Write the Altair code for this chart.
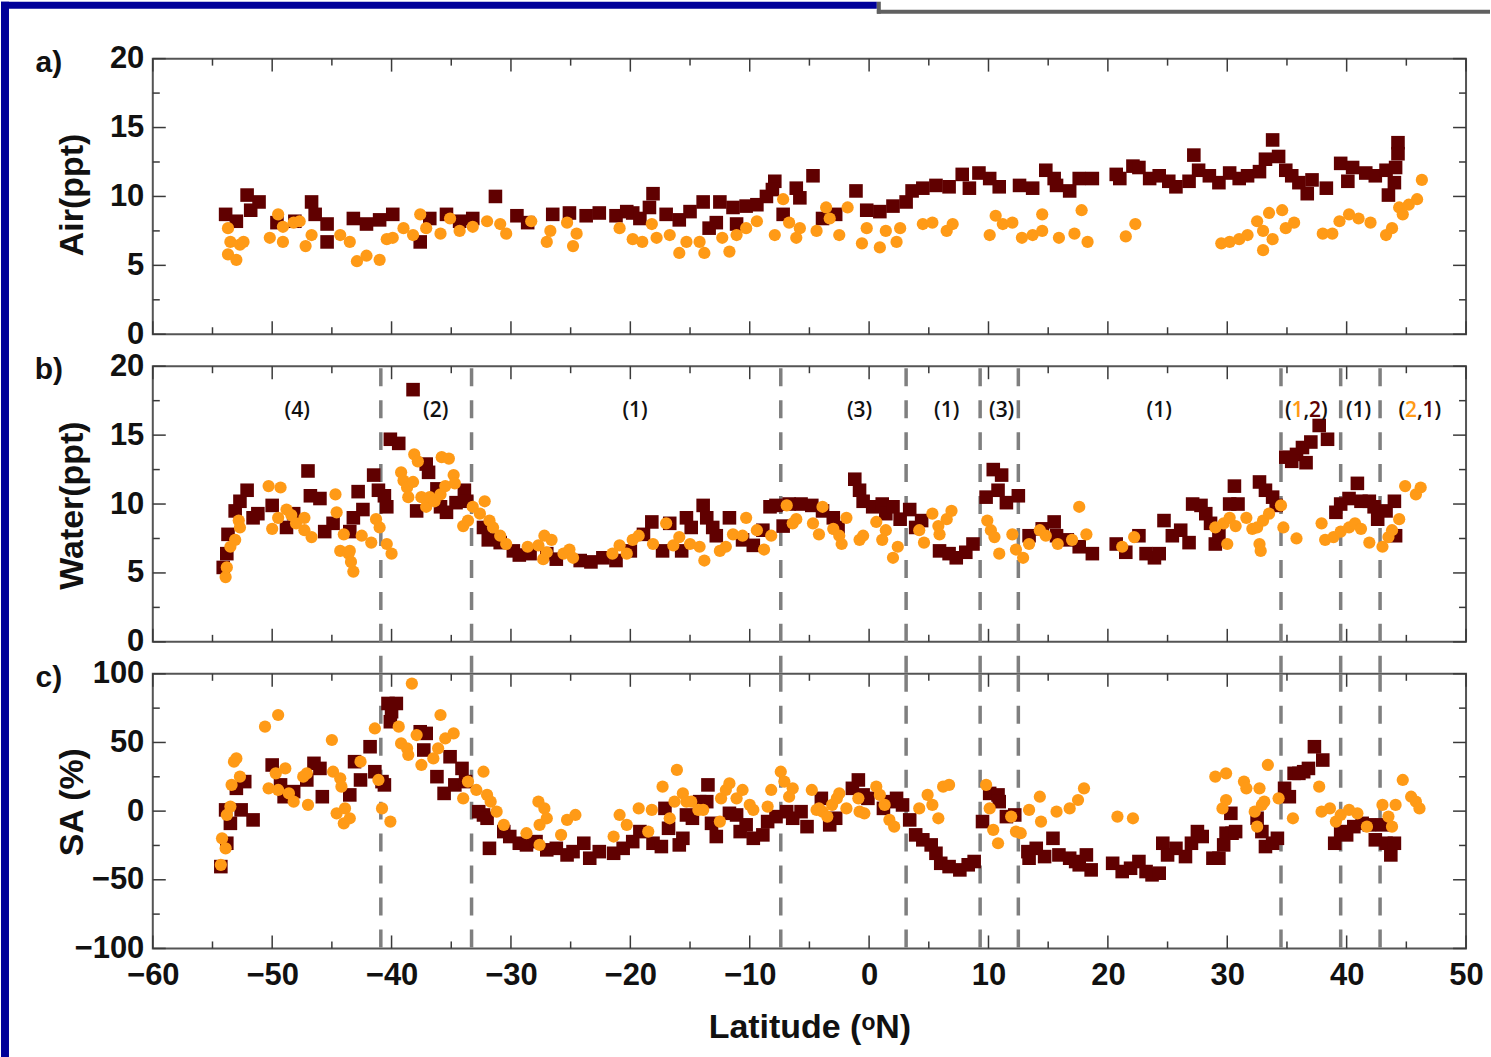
import altair as alt
import pandas as pd

# ---------------- data (latitude, value) ----------------
AIR_SQUARES = [
    (-53.9, 8.7), (-53.0, 8.2), (-52.1, 10.1), (-51.8, 9.0), (-51.1, 9.6), (-49.6, 8.1), (-48.1, 8.2),
    (-46.7, 9.6), (-46.4, 8.7), (-45.4, 8.0), (-45.4, 6.7), (-43.2, 8.4), (-42.1, 8.0), (-41.0, 8.3),
    (-39.9, 8.7), (-37.6, 6.7), (-36.8, 8.4), (-35.4, 8.7), (-34.3, 8.2), (-33.2, 8.4), (-31.3, 10.0),
    (-29.5, 8.6), (-28.6, 8.1), (-26.5, 8.7), (-25.1, 8.8), (-23.7, 8.6), (-22.6, 8.8), (-21.2, 8.6),
    (-19.8, 8.8), (-20.3, 8.9), (-19.2, 8.4), (-18.1, 10.2), (-18.4, 9.2), (-17.0, 8.7), (-15.9, 8.3),
    (-15.0, 8.9), (-13.9, 9.6), (-13.4, 7.7), (-12.8, 8.1), (-12.5, 9.6), (-11.4, 9.2), (-11.1, 8.0),
    (-10.3, 9.3), (-9.4, 9.4), (-8.6, 10.0), (-7.9, 11.1), (-8.1, 10.5), (-7.2, 8.7), (-6.1, 10.6),
    (-5.8, 9.9), (-4.7, 11.5), (-3.9, 8.4), (-2.8, 8.7), (-1.1, 10.4), (-0.2, 9.0), (0.9, 8.9), (2.0, 9.3),
    (3.1, 9.6), (3.6, 10.4), (4.5, 10.6), (5.6, 10.8), (6.7, 10.7), (7.8, 11.6), (8.4, 10.6), (9.2, 11.7),
    (10.1, 11.3), (10.9, 10.7), (12.6, 10.8), (13.7, 10.6), (14.8, 11.9), (15.5, 11.3), (15.7, 10.8),
    (16.8, 10.4), (17.6, 11.3), (18.7, 11.3), (20.7, 11.6), (21.0, 11.3), (22.1, 12.2), (22.6, 12.1),
    (23.5, 11.3), (24.3, 11.5), (25.1, 11.1), (25.7, 10.7), (26.8, 11.1), (27.2, 13.0), (27.6, 11.9),
    (28.5, 11.5), (29.3, 11.0), (30.2, 11.7), (31.0, 11.3), (31.7, 11.5), (32.7, 11.8), (33.2, 12.7),
    (33.8, 14.1), (34.3, 12.9), (34.9, 11.9), (35.4, 11.5), (36.0, 11.0), (36.7, 10.2), (37.1, 11.2),
    (38.3, 10.6), (39.5, 12.4), (40.1, 11.1), (40.5, 12.1), (41.6, 11.7), (42.4, 11.5), (43.3, 11.9),
    (43.5, 10.1), (44.0, 11.0), (44.1, 12.1), (44.3, 13.9), (44.3, 13.1),
]
AIR_CIRCLES = [
    (-53.7, 7.7), (-53.5, 6.7), (-53.7, 5.8), (-53.0, 5.4), (-52.7, 6.5), (-52.4, 6.7), (-50.2, 7.0),
    (-49.5, 8.7), (-49.1, 6.7), (-49.1, 7.8), (-48.2, 8.1), (-47.7, 8.2), (-47.2, 6.4), (-46.7, 7.2),
    (-44.3, 7.2), (-43.5, 6.7), (-42.9, 5.3), (-42.1, 5.7), (-41.0, 5.4), (-40.4, 6.9), (-39.9, 7.0),
    (-39.0, 7.7), (-38.2, 7.2), (-37.6, 8.7), (-37.1, 7.7), (-35.9, 7.3), (-35.1, 8.4), (-34.3, 7.5),
    (-33.2, 7.8), (-32.0, 8.2), (-30.9, 8.0), (-30.4, 7.3), (-28.3, 8.2), (-27.0, 6.7), (-26.7, 7.5),
    (-25.3, 8.1), (-24.8, 6.4), (-24.5, 7.3), (-20.9, 7.7), (-19.8, 6.9), (-19.0, 6.7), (-18.2, 8.0),
    (-17.8, 7.0), (-16.7, 7.2), (-15.9, 5.9), (-15.3, 6.7), (-14.2, 6.7), (-13.8, 5.9), (-12.3, 7.0),
    (-11.7, 6.0), (-11.1, 7.2), (-10.3, 7.7), (-9.4, 8.2), (-7.9, 7.2), (-7.2, 9.8), (-6.7, 8.1),
    (-6.1, 7.0), (-5.8, 7.7), (-4.4, 7.5), (-3.6, 9.2), (-3.3, 8.4), (-2.5, 7.2), (-1.8, 9.2), (-0.6, 6.6),
    (-0.2, 7.7), (0.9, 6.3), (1.4, 7.5), (2.3, 6.7), (2.6, 7.7), (4.5, 8.0), (5.3, 8.1), (6.5, 7.5),
    (7.0, 8.0), (10.1, 7.2), (10.6, 8.6), (11.2, 8.0), (12.0, 8.1), (12.8, 7.0), (13.7, 7.2), (14.5, 8.7),
    (14.5, 7.5), (15.9, 7.0), (17.2, 7.3), (17.8, 9.0), (18.3, 6.7), (21.5, 7.1), (22.3, 8.0), (29.5, 6.6),
    (30.2, 6.7), (31.0, 6.9), (31.7, 7.2), (32.5, 8.2), (33.0, 7.5), (33.0, 6.1), (33.5, 8.8), (33.8, 6.9),
    (34.6, 9.0), (34.9, 7.7), (35.6, 8.1), (38.0, 7.3), (38.8, 7.3), (39.4, 8.2), (40.2, 8.7), (41.0, 8.4),
    (42.0, 8.1), (43.3, 7.2), (43.8, 7.7), (44.4, 9.2), (44.7, 8.7), (45.2, 9.4), (45.9, 9.8), (46.3, 11.2),
]
WATER_SQUARES = [
    (-54.1, 5.4), (-53.8, 6.4), (-53.7, 7.8), (-53.1, 9.5), (-52.7, 10.2), (-52.1, 11.0), (-51.6, 9.0),
    (-51.2, 9.3), (-50.0, 9.9), (-48.8, 8.3), (-48.2, 9.3), (-47.0, 12.4), (-46.8, 10.6), (-46.0, 10.4),
    (-45.6, 8.0), (-44.9, 8.6), (-43.5, 8.0), (-43.2, 9.0), (-42.8, 10.9), (-42.4, 9.6), (-41.5, 12.1),
    (-41.1, 11.0), (-40.6, 10.6), (-40.4, 9.8), (-40.1, 14.7), (-39.4, 14.4), (-38.2, 18.3), (-37.9, 9.5),
    (-37.1, 12.9), (-36.9, 12.3), (-36.2, 11.1), (-35.9, 9.8), (-35.4, 9.4), (-34.6, 10.1), (-33.9, 11.0),
    (-33.7, 10.2), (-32.3, 8.3), (-31.9, 7.4), (-30.9, 7.2), (-29.8, 6.6), (-29.3, 6.3), (-28.4, 6.4),
    (-27.0, 6.4), (-26.2, 6.0), (-24.2, 5.9), (-23.3, 5.8), (-22.3, 6.1), (-21.2, 5.9), (-20.0, 6.6),
    (-18.9, 7.8), (-18.2, 8.7), (-17.3, 6.6), (-16.7, 8.6), (-15.7, 6.6), (-15.3, 9.0), (-14.9, 8.3),
    (-13.9, 9.9), (-13.6, 9.0), (-13.1, 8.3), (-12.8, 7.7), (-11.7, 9.0), (-10.6, 7.4), (-9.7, 7.0),
    (-8.9, 8.1), (-8.3, 9.8), (-7.8, 9.9), (-7.2, 8.4), (-6.7, 10.0), (-5.7, 10.0), (-4.8, 9.9), (-3.9, 9.5),
    (-3.0, 9.0), (-2.6, 8.3), (-1.2, 11.8), (-0.8, 11.0), (-0.5, 10.2), (0.3, 9.8), (1.1, 10.0), (1.4, 9.3),
    (2.0, 9.8), (2.6, 8.9), (3.4, 9.6), (3.9, 8.3), (4.4, 8.8), (5.9, 6.6), (6.7, 6.4), (7.3, 6.1),
    (8.1, 6.5), (8.7, 7.1), (9.8, 10.5), (10.4, 12.5), (11.1, 12.1), (10.8, 11.0), (11.5, 10.1),
    (12.5, 10.6), (13.4, 7.7), (14.5, 8.2), (15.5, 8.7), (15.7, 7.7), (16.6, 7.4), (17.6, 6.9), (18.7, 6.4),
    (20.7, 7.1), (21.5, 6.5), (22.6, 7.7), (23.2, 6.4), (23.9, 6.1), (24.3, 6.4), (24.7, 8.8), (25.4, 7.7),
    (26.1, 8.1), (26.8, 7.2), (27.1, 10.0), (27.8, 9.9), (28.2, 9.3), (28.6, 8.6), (29.0, 7.1), (29.3, 7.8),
    (30.2, 10.0), (30.6, 11.3), (30.9, 10.0), (32.7, 11.6), (33.2, 11.0), (33.8, 10.5), (34.1, 9.9),
    (34.9, 13.4), (35.4, 13.1), (35.8, 13.6), (36.3, 14.1), (36.6, 13.0), (37.0, 14.5), (37.7, 15.7),
    (38.4, 14.7), (39.1, 9.4), (39.5, 10.0), (40.2, 10.4), (40.9, 11.5), (41.2, 10.2), (41.9, 10.2),
    (42.3, 9.8), (42.6, 8.9), (43.3, 9.5), (44.0, 10.2), (44.1, 7.7),
]
WATER_CIRCLES = [
    (-53.9, 4.7), (-53.8, 5.4), (-53.5, 6.9), (-53.1, 7.4), (-52.8, 8.8), (-52.7, 8.3), (-50.3, 11.3),
    (-50.0, 8.2), (-49.3, 11.2), (-49.5, 9.0), (-48.8, 9.6), (-48.4, 9.2), (-48.0, 8.6), (-47.3, 9.0),
    (-47.3, 8.1), (-46.7, 7.6), (-44.7, 10.7), (-44.6, 9.4), (-44.0, 7.8), (-44.3, 6.6), (-43.6, 6.4),
    (-43.5, 6.6), (-43.2, 5.1), (-43.4, 5.8), (-42.5, 7.7), (-41.7, 7.2), (-41.3, 8.9), (-41.0, 8.3),
    (-40.4, 7.1), (-40.0, 6.4), (-39.2, 12.3), (-39.0, 11.7), (-38.7, 11.2), (-38.6, 10.5), (-38.2, 11.6),
    (-38.1, 13.6), (-37.8, 13.1), (-37.5, 10.5), (-37.1, 9.8), (-36.8, 10.5), (-36.4, 10.2), (-35.9, 10.7),
    (-35.8, 13.4), (-35.2, 13.3), (-35.5, 11.3), (-34.8, 12.1), (-34.7, 11.5), (-34.0, 8.4), (-33.6, 8.8),
    (-33.2, 9.8), (-32.2, 10.2), (-32.6, 9.3), (-31.8, 8.8), (-31.5, 8.3), (-30.9, 7.7), (-30.4, 7.1),
    (-28.6, 6.9), (-27.7, 7.0), (-27.2, 7.7), (-26.6, 7.4), (-27.3, 6.0), (-27.0, 6.5), (-25.6, 6.4),
    (-25.1, 6.7), (-24.8, 6.1), (-21.5, 6.4), (-20.9, 7.0), (-19.8, 7.4), (-19.3, 7.7), (-20.3, 6.4),
    (-18.1, 7.1), (-17.0, 8.6), (-16.4, 7.0), (-15.9, 7.6), (-15.0, 7.1), (-14.2, 6.9), (-13.8, 5.9),
    (-12.5, 6.6), (-12.0, 6.9), (-11.4, 7.8), (-10.6, 7.7), (-10.3, 9.0), (-9.4, 8.1), (-8.8, 6.7),
    (-8.2, 7.7), (-6.9, 9.9), (-6.4, 8.6), (-6.1, 8.9), (-4.7, 8.6), (-4.2, 7.8), (-3.9, 9.8), (-3.0, 8.2),
    (-2.5, 7.7), (-2.3, 7.1), (-1.9, 9.0), (-0.8, 7.4), (-0.5, 7.7), (0.6, 8.7), (1.1, 7.4), (1.4, 8.1),
    (2.0, 6.1), (2.4, 6.9), (4.2, 8.1), (4.6, 7.2), (5.3, 9.3), (5.8, 8.4), (5.9, 7.8), (6.5, 8.9),
    (6.9, 9.5), (9.9, 8.8), (10.2, 8.1), (10.5, 7.6), (10.9, 6.4), (12.0, 7.8), (12.3, 6.7), (12.9, 6.1),
    (13.4, 7.1), (14.3, 8.1), (14.8, 7.7), (15.8, 7.1), (17.0, 7.4), (17.6, 9.8), (18.2, 7.8), (21.2, 6.9),
    (22.2, 7.6), (29.0, 8.3), (29.7, 8.6), (30.0, 7.1), (30.2, 9.0), (30.7, 8.4), (31.6, 9.0), (32.1, 8.2),
    (32.5, 8.3), (32.7, 7.1), (32.8, 6.6), (33.0, 8.8), (33.5, 9.3), (34.5, 9.9), (34.7, 8.3), (35.8, 7.5),
    (37.9, 8.6), (38.2, 7.4), (38.9, 7.6), (39.5, 8.0), (40.2, 8.3), (40.7, 8.6), (41.2, 8.2), (41.9, 7.2),
    (43.0, 6.9), (43.5, 7.6), (43.8, 8.1), (44.4, 8.9), (44.9, 11.3), (45.8, 10.7), (46.2, 11.2),
]
SA_SQUARES = [
    (-54.3, -40.4), (-53.8, -23.4), (-53.9, 0.9), (-53.5, -8.9), (-53.0, 16.6), (-52.6, 0.9), (-52.3, 21.5),
    (-51.6, -6.4), (-50.0, 33.6), (-49.3, 19.1), (-49.0, 10.5), (-48.2, 14.2), (-47.1, 22.7), (-46.5, 34.8),
    (-46.0, 31.1), (-45.8, 10.5), (-43.5, 11.8), (-43.1, 36.0), (-42.6, 22.7), (-41.8, 46.9), (-41.4, 28.7),
    (-40.8, 21.5), (-40.6, 19.1), (-40.3, 78.4), (-40.0, 72.4), (-39.6, 78.4), (-40.1, 65.1), (-37.6, 57.8),
    (-37.1, 56.6), (-37.3, 44.5), (-36.2, 25.1), (-35.6, 12.9), (-35.1, 39.6), (-34.7, 19.1), (-34.1, 31.1),
    (-33.8, 21.5), (-32.7, -0.4), (-32.3, -2.8), (-32.0, -5.2), (-31.8, -27.1), (-30.6, -14.9), (-30.1, -18.5),
    (-29.3, -23.4), (-28.7, -24.6), (-27.9, -22.2), (-27.0, -28.2), (-26.2, -27.1), (-25.3, -31.9),
    (-24.8, -29.5), (-23.9, -23.4), (-23.4, -34.3), (-22.6, -29.5), (-21.4, -30.7), (-20.6, -27.1),
    (-19.8, -22.2), (-19.2, -14.9), (-18.1, -23.4), (-17.4, -25.8), (-17.1, 2.0), (-16.8, -12.5),
    (-15.9, -24.6), (-15.6, -19.8), (-15.3, -2.8), (-14.8, -5.2), (-14.2, 6.9), (-13.5, 19.1), (-13.6, 6.9),
    (-13.2, -8.9), (-12.8, -18.5), (-11.7, -1.6), (-11.1, -2.8), (-10.8, -14.9), (-10.3, -10.0),
    (-9.7, -19.8), (-8.9, -17.3), (-8.5, -7.6), (-7.8, -4.0), (-6.9, -0.4), (-6.4, -5.2), (-5.7, -0.4),
    (-5.2, -11.3), (-4.0, 9.3), (-3.3, -10.0), (-2.8, -5.2), (-1.4, 16.6), (-0.9, 22.7), (-0.5, 11.8),
    (-0.1, 9.3), (1.2, 2.0), (1.7, 6.9), (2.3, 9.3), (2.8, 4.5), (3.4, -6.4), (3.9, -17.3), (4.5, -20.9),
    (5.2, -24.6), (5.6, -30.7), (6.0, -38.0), (6.7, -40.4), (7.6, -42.8), (8.3, -39.1), (8.8, -36.7),
    (9.5, -7.6), (10.1, 12.9), (10.8, 11.8), (10.9, 6.9), (11.5, -4.0), (12.2, -2.8), (13.3, -29.5),
    (13.4, -34.3), (14.0, -27.1), (14.7, -33.1), (15.4, -19.8), (15.9, -31.9), (16.8, -34.3), (17.3, -36.7),
    (17.6, -39.1), (18.2, -31.9), (18.6, -42.8), (20.4, -38.0), (21.2, -44.0), (21.9, -41.6), (22.6, -36.7),
    (23.2, -44.0), (23.7, -46.4), (24.3, -45.2), (24.6, -23.4), (25.0, -31.9), (25.7, -27.1), (26.5, -33.1),
    (27.0, -23.4), (27.5, -14.9), (27.9, -18.5), (28.8, -34.3), (29.3, -34.3), (29.7, -24.6), (29.9, -16.1),
    (30.3, -1.6), (30.4, -16.1), (30.7, -14.9), (32.5, -5.2), (32.9, -14.9), (33.2, -25.8), (33.8, -23.4),
    (34.2, -19.8), (34.8, 16.6), (35.2, 10.5), (35.6, 27.5), (36.0, 27.5), (36.4, 28.7), (36.8, 31.1),
    (37.3, 46.9), (38.0, 37.2), (39.0, -23.4), (39.5, -14.9), (40.0, -17.3), (40.6, -11.3), (41.3, -8.9),
    (41.9, -10.0), (42.4, -20.9), (43.0, -10.0), (43.3, -23.4), (43.7, -31.9), (44.0, -23.4),
]
SA_CIRCLES = [
    (-54.3, -39.1), (-54.2, -19.8), (-53.9, -27.1), (-53.8, -2.8), (-53.5, 3.3), (-53.2, 36.0), (-53.0, 38.4),
    (-53.4, 19.1), (-52.7, 25.1), (-50.6, 61.5), (-49.5, 70.0), (-50.3, 16.6), (-49.7, 27.5), (-48.9, 31.1),
    (-49.5, 15.4), (-48.6, 12.9), (-48.2, 6.9), (-47.4, 25.1), (-47.1, 27.5), (-47.0, 4.5), (-45.0, 51.8),
    (-44.9, 28.7), (-44.3, 23.9), (-44.2, 17.8), (-44.6, -1.6), (-43.9, 2.0), (-44.0, -8.9), (-43.5, -5.2),
    (-42.6, 36.0), (-41.4, 60.2), (-41.1, 22.7), (-40.8, 2.0), (-40.1, -7.6), (-39.4, 61.5), (-39.2, 49.3),
    (-38.7, 45.7), (-38.6, 40.9), (-38.3, 92.9), (-37.9, 55.4), (-37.5, 33.6), (-36.5, 38.4), (-36.1, 45.7),
    (-35.9, 70.0), (-35.5, 52.9), (-34.8, 56.6), (-34.0, 9.3), (-33.6, 21.5), (-32.3, 28.7), (-32.9, 15.4),
    (-32.0, 11.8), (-31.7, 6.9), (-31.2, -0.4), (-30.6, -10.0), (-28.7, -16.1), (-27.6, -24.6), (-27.7, 6.9),
    (-27.2, 2.0), (-27.0, -5.2), (-27.6, -10.0), (-25.8, -17.3), (-25.3, -6.4), (-24.6, -2.8), (-21.4, -18.5),
    (-20.9, -2.8), (-20.3, -10.0), (-19.3, 2.0), (-18.5, -14.9), (-18.2, 0.9), (-17.3, 17.8), (-16.7, -5.2),
    (-16.1, 30.0), (-16.3, 6.9), (-15.6, 12.9), (-15.3, 6.9), (-14.9, 6.9), (-14.3, 0.9), (-13.9, 0.9),
    (-12.5, -7.6), (-12.4, 9.3), (-12.0, 15.4), (-11.7, 20.2), (-11.1, 9.3), (-10.6, 15.4), (-10.0, 4.5),
    (-9.7, 0.9), (-8.5, 3.3), (-8.2, 15.4), (-7.4, 28.7), (-7.1, 21.5), (-6.7, 10.5), (-6.4, 16.6),
    (-4.8, 15.4), (-4.4, 0.9), (-4.2, 2.0), (-3.9, -0.4), (-3.5, -4.0), (-3.1, 4.5), (-2.7, 9.3), (-2.5, 12.9),
    (-1.9, 2.0), (-0.9, 9.3), (-0.8, -0.4), (-0.4, -1.6), (0.6, 17.8), (0.9, 11.8), (1.3, 4.5), (1.7, -6.4),
    (2.1, -11.3), (4.2, 2.0), (4.9, 11.8), (5.3, 4.5), (5.8, -5.2), (6.2, 17.8), (6.7, 19.1), (9.8, 19.1),
    (10.1, 2.0), (10.4, -13.7), (10.8, -23.4), (11.9, -4.0), (12.3, -14.9), (12.7, -16.1), (13.4, 0.9),
    (14.3, 10.5), (14.4, -7.6), (15.7, -0.4), (16.8, 2.0), (17.5, 8.1), (18.0, 16.6), (20.8, -4.0),
    (22.1, -5.2), (29.0, 25.1), (29.9, 27.5), (29.6, 2.0), (29.9, 8.1), (31.4, 21.5), (31.6, 16.6),
    (32.3, -0.4), (32.5, -11.3), (32.7, 16.6), (32.9, 4.5), (33.1, 6.9), (33.4, 33.6), (34.3, 9.3),
    (35.5, -5.2), (37.7, 17.8), (37.9, -0.4), (38.6, 2.0), (39.1, -7.6), (39.5, -2.8), (40.2, 0.9),
    (40.9, -1.6), (41.7, -11.3), (43.0, 4.5), (43.5, -4.0), (43.8, -11.3), (44.1, 4.5), (44.7, 22.7),
    (45.4, 10.5), (45.8, 6.9), (46.1, 2.0),
]

REGION_BOUNDARIES = [-40.9, -33.3, -7.4, 3.1, 9.3, 12.5, 34.5, 39.5, 42.8]
REGION_LABEL_LAT = [-47.9, -36.3, -19.6, -0.8, 6.5, 11.1, 24.3, 41.0]
REGION_LABEL_TXT = ["(4)", "(2)", "(1)", "(3)", "(1)", "(3)", "(1)", "(1)"]
MIXED_LABEL_LAT = [36.6, 46.1]
MIXED_FIRST = ["1", "2"]   # orange digit
MIXED_SECOND = ["2", "1"]  # dark red digit

X_MAJOR = [-60, -50, -40, -30, -20, -10, 0, 10, 20, 30, 40, 50]
X_MINOR = [-55, -45, -35, -25, -15, -5, 5, 15, 25, 35, 45]

# ---------------- styling ----------------
DARK = "#600000"
ORANGE = "#FF9A16"
BLUE = "#000099"
TICK = "#3a3a3a"
FONT = "Liberation Sans"
W = 1315

xs = alt.Scale(domain=[-60, 50], nice=False, zero=False)


def pts(pairs):
    return pd.DataFrame(pairs, columns=["lat", "val"])


def one_row():
    return pd.DataFrame({"k": [0]})


def panel(squares, circles, ydomain, y_major, y_minor, ytitle, title_y, letter, height, show_x, kind):
    ys = alt.Scale(domain=ydomain, nice=False, zero=False)
    yaxis = alt.Axis(values=y_major, ticks=False, domain=False, grid=False,
                     labelFont=FONT, labelFontSize=31, labelFontWeight="bold", labelColor="#111111",
                     labelPadding=9,
                     title=ytitle, titleFont=FONT, titleFontSize=34, titleFontWeight="bold",
                     titleColor="#111111", titleAngle=270, titleX=-80, titleY=title_y,
                     titleBaseline="middle", titleAlign="center")
    if show_x:
        xaxis = alt.Axis(values=X_MAJOR, ticks=False, domain=False, grid=False,
                         labelFont=FONT, labelFontSize=31, labelFontWeight="bold",
                         labelColor="#111111", labelPadding=12, labelFlush=False,
                         title="Latitude (ᵒN)", titleFont=FONT, titleFontSize=34,
                         titleFontWeight="bold", titleColor="#111111", titlePadding=20)
    else:
        xaxis = None

    def X(f):
        return alt.X(f, scale=xs, axis=xaxis)

    def Y(f):
        return alt.Y(f, scale=ys, axis=yaxis)

    layers = []
    r = one_row()
    if kind == "a":
        layers += [
            alt.Chart(r).mark_rect(color=BLUE).encode(
                x=alt.value(-152), x2=alt.value(-144), y=alt.value(-57), y2=alt.value(1000)),
            alt.Chart(r).mark_rect(color=BLUE).encode(
                x=alt.value(-152), x2=alt.value(725), y=alt.value(-57), y2=alt.value(-50)),
            alt.Chart(r).mark_rect(color="#606060").encode(
                x=alt.value(725), x2=alt.value(729), y=alt.value(-57), y2=alt.value(-45)),
            alt.Chart(r).mark_rect(color="#606060").encode(
                x=alt.value(725), x2=alt.value(1339), y=alt.value(-49), y2=alt.value(-45)),
        ]
    if kind in ("b", "c"):
        d = pd.DataFrame({"lat": REGION_BOUNDARIES})
        top, bottom = (2, height + 31) if kind == "b" else (0, height + 12)
        layers.append(alt.Chart(d).mark_rule(color="#7f7f7f", strokeWidth=3.5, strokeDash=[18, 14]).encode(
            x=X("lat:Q"), y=alt.value(top), y2=alt.value(bottom)))

    layers.append(alt.Chart(pts(squares)).mark_square(size=185, color=DARK, opacity=1).encode(
        x=X("lat:Q"), y=Y("val:Q")))
    layers.append(alt.Chart(pts(circles)).mark_circle(size=150, color=ORANGE, opacity=1).encode(
        x=X("lat:Q"), y=Y("val:Q")))

    if kind == "b":
        lbl = pd.DataFrame({"lat": REGION_LABEL_LAT, "t": REGION_LABEL_TXT})
        tstyle = dict(font="Open Sans", fontSize=21, fontWeight=600, baseline="middle")
        layers.append(alt.Chart(lbl).mark_text(color="#111111", align="center", **tstyle).encode(
            x=X("lat:Q"), y=alt.value(45), text="t:N"))
        n = len(MIXED_LABEL_LAT)
        mix = pd.DataFrame({"lat": MIXED_LABEL_LAT, "a": MIXED_FIRST, "b": MIXED_SECOND,
                            "o": ["("] * n, "c": [","] * n, "e": [")"] * n})
        for field, col, dx in (("o", "#111111", -21), ("a", ORANGE, -14.5), ("c", "#111111", -2.5),
                               ("b", DARK, 3), ("e", "#111111", 15)):
            layers.append(alt.Chart(mix).mark_text(color=col, align="left", dx=dx, **tstyle).encode(
                x=X("lat:Q"), y=alt.value(45), text=f"{field}:N"))

    layers.append(alt.Chart(pd.DataFrame({"t": [letter]})).mark_text(
        font=FONT, fontSize=30, fontWeight="bold", color="#111111", align="center", baseline="middle"
    ).encode(x=alt.value(-104), y=alt.value(4), text="t:N"))

    # inward ticks on all four sides
    for vals, ln in ((X_MAJOR, 13), (X_MINOR, 7)):
        d = pd.DataFrame({"lat": vals})
        layers.append(alt.Chart(d).mark_rule(color=TICK, strokeWidth=1.5).encode(
            x=X("lat:Q"), y=alt.value(0), y2=alt.value(ln)))
        layers.append(alt.Chart(d).mark_rule(color=TICK, strokeWidth=1.5).encode(
            x=X("lat:Q"), y=alt.value(height), y2=alt.value(height - ln)))
    for vals, ln in ((y_major, 13), (y_minor, 7)):
        d = pd.DataFrame({"val": vals})
        layers.append(alt.Chart(d).mark_rule(color=TICK, strokeWidth=1.5).encode(
            y=Y("val:Q"), x=alt.value(0), x2=alt.value(ln)))
        layers.append(alt.Chart(d).mark_rule(color=TICK, strokeWidth=1.5).encode(
            y=Y("val:Q"), x=alt.value(W), x2=alt.value(W - ln)))

    return alt.layer(*layers).properties(width=W, height=height)


pa = panel(AIR_SQUARES, AIR_CIRCLES, [0, 20], [0, 5, 10, 15, 20], [2.5, 7.5, 12.5, 17.5],
           "Air(ppt)", 136, "a)", 276, False, "a")
pb = panel(WATER_SQUARES, WATER_CIRCLES, [0, 20], [0, 5, 10, 15, 20], [2.5, 7.5, 12.5, 17.5],
           "Water(ppt)", 139, "b)", 276, False, "b")
pc = panel(SA_SQUARES, SA_CIRCLES, [-100, 100], [-100, -50, 0, 50, 100], [-75, -25, 25, 75],
           "SA (%)", 128, "c)", 275, True, "c")

chart = alt.vconcat(pa, pb, pc, spacing=32, bounds="flush").properties(
    padding=0, background="white"
).configure_view(stroke="#555555", strokeWidth=2)

chart.save("out.html", embed_options={"renderer": "svg", "actions": False})
